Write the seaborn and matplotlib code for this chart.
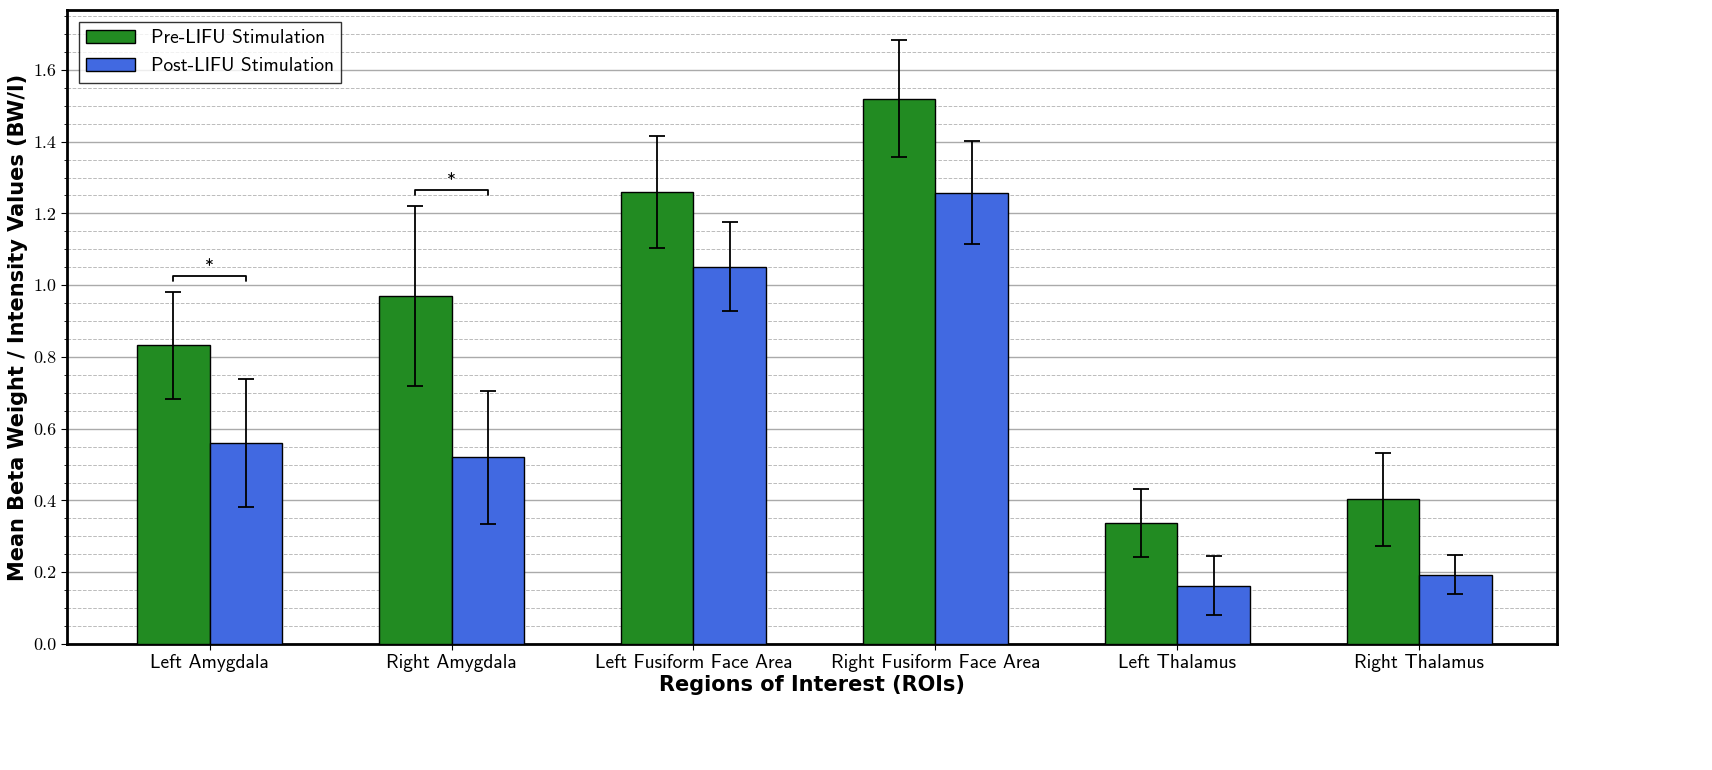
import numpy as np
import pandas as pd
import matplotlib
matplotlib.use("Agg")
import matplotlib.pyplot as plt
import seaborn as sns

rois = ["Left Amygdala", "Right Amygdala", "Left Fusiform Face Area",
        "Right Fusiform Face Area", "Left Thalamus", "Right Thalamus"]
pre_mean = [0.832, 0.970, 1.260, 1.520, 0.337, 0.403]
pre_err = [0.150, 0.250, 0.155, 0.163, 0.095, 0.130]
post_mean = [0.560, 0.520, 1.052, 1.258, 0.163, 0.193]
post_err = [0.178, 0.185, 0.125, 0.143, 0.083, 0.055]
conditions = ["Pre-LIFU Stimulation", "Post-LIFU Stimulation"]
colors = ["#228B22", "#4169E1"]
sig_groups = [0, 1]

df = pd.DataFrame({
    "roi": rois * 2,
    "cond": [conditions[0]] * 6 + [conditions[1]] * 6,
    "val": pre_mean + post_mean,
})

sns.set_style("white")
plt.rcParams["axes.unicode_minus"] = False
plt.rcParams["text.color"] = "black"
plt.rcParams["axes.labelcolor"] = "black"
plt.rcParams["xtick.color"] = "black"
plt.rcParams["ytick.color"] = "black"

fig = plt.figure(figsize=(17.12, 7.7), dpi=100)
ax = fig.add_axes([67 / 1712, 126 / 770, 1490 / 1712, 634 / 770])

sns.barplot(data=df, x="roi", y="val", hue="cond", palette=colors,
            width=0.6, edgecolor="black", linewidth=1, errorbar=None,
            saturation=1, ax=ax, zorder=3)

x = np.arange(len(rois))
ax.errorbar(x - 0.15, pre_mean, yerr=pre_err, fmt="none", ecolor="black",
            capsize=6, elinewidth=1.3, capthick=1.3, zorder=4)
ax.errorbar(x + 0.15, post_mean, yerr=post_err, fmt="none", ecolor="black",
            capsize=6, elinewidth=1.3, capthick=1.3, zorder=4)

for g in sig_groups:
    top = pre_mean[g] + pre_err[g] + 0.045
    ax.plot([g - 0.15, g - 0.15, g + 0.15, g + 0.15],
            [top - 0.015, top, top, top - 0.015], color="black", lw=1.3)
    ax.text(g, top + 0.005, "*", ha="center", va="bottom", fontsize=13,
            family="cmss10")

ax.set_xlim(-0.59, 5.57)
ax.set_ylim(0, 1.767)
ax.set_yticks(np.arange(0, 1.76, 0.05), minor=True)
ax.grid(axis="y", which="major", color="#aaaaaa", lw=1, zorder=0)
ax.grid(axis="y", which="minor", color="#bbbbbb", lw=0.7, ls="--", zorder=0)
ax.set_axisbelow(True)
ax.tick_params(axis="y", which="both", left=True, direction="out", length=4)
ax.tick_params(axis="y", which="minor", length=2)
ax.tick_params(axis="x", bottom=True, length=4)

yt = np.arange(0, 1.61, 0.2)
ax.set_yticks(yt)
ax.set_yticklabels([f"{v:.1f}" for v in yt], family="cmr10", fontsize=13)
ax.set_xticks(x)
ax.set_xticklabels(rois, family="cmss10", fontsize=14)

ax.set_xlabel("Regions of Interest (ROIs)", fontsize=15, fontweight="bold",
              family="DejaVu Sans", labelpad=2)
ax.set_ylabel("Mean Beta Weight / Intensity Values (BW/I)", fontsize=15,
              fontweight="bold", family="DejaVu Sans")

for s in ax.spines.values():
    s.set_linewidth(2)
    s.set_color("black")

leg = ax.legend(loc="upper left", frameon=True, fancybox=False,
                edgecolor="black", prop={"family": "cmss10", "size": 14},
                handlelength=2.5, borderaxespad=0.6)
leg.get_frame().set_linewidth(1)

fig.savefig("out.png", dpi=100)
